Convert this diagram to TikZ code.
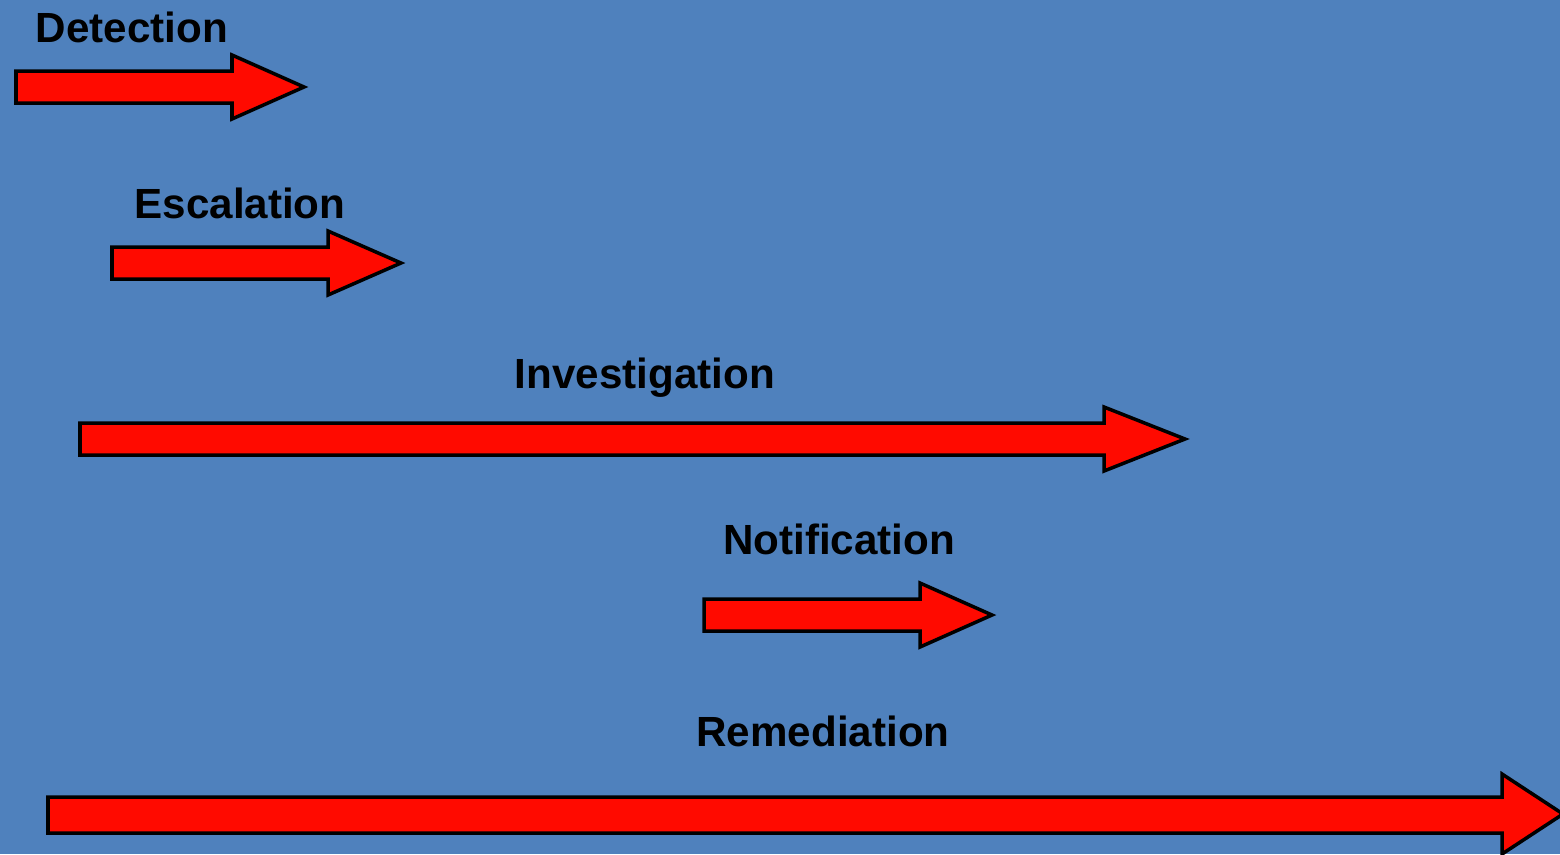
\documentclass[tikz,border=0pt]{standalone}
\usepackage{fontspec}
\setmainfont{Liberation Sans}
\definecolor{bgblue}{RGB}{79,129,189}
\definecolor{arrowred}{RGB}{255,10,0}
\tikzset{
  phase/.style={font=\bfseries\fontsize{12}{14}\selectfont,anchor=base,inner sep=0pt},
  fatarrow/.style={fill=arrowred,draw=black,line width=1pt,line join=miter}
}

\begin{document}
\begin{tikzpicture}
		%Фон
		\fill[bgblue] (0,0) rectangle (15.6,-8.54);
		\useasboundingbox (0,0) rectangle (15.6,-8.54);
		
		%Detection
		\node[phase] (detection) at (1.32,-0.42) {Detection};
		\draw[fatarrow] (0.16,-0.71)--(2.32,-0.71)--(2.32,-0.55)--(3.04,-0.87)--(2.32,-1.19)--(2.32,-1.03)--(0.16,-1.03)--cycle;
		
		%Escalation
		\node[phase] (escalation) at (2.40,-2.18) {Escalation};
		\draw[fatarrow] (1.12,-2.47)--(3.28,-2.47)--(3.28,-2.31)--(4.01,-2.63)--(3.28,-2.95)--(3.28,-2.79)--(1.12,-2.79)--cycle;
		
		%Investigation
		\node[phase] (investigation) at (6.45,-3.88) {Investigation};
		\draw[fatarrow] (0.80,-4.23)--(11.04,-4.23)--(11.04,-4.07)--(11.85,-4.39)--(11.04,-4.71)--(11.04,-4.55)--(0.80,-4.55)--cycle;
		
		%Notification
		\node[phase] (notification) at (8.39,-5.54) {Notification};
		\draw[fatarrow] (7.04,-5.99)--(9.20,-5.99)--(9.20,-5.83)--(9.92,-6.15)--(9.20,-6.47)--(9.20,-6.31)--(7.04,-6.31)--cycle;
		
		%Remediation
		\node[phase] (remediation) at (8.23,-7.46) {Remediation};
		\draw[fatarrow] (0.48,-7.97)--(15.02,-7.97)--(15.02,-7.74)--(15.63,-8.14)--(15.02,-8.54)--(15.02,-8.33)--(0.48,-8.33)--cycle;
\end{tikzpicture}
\end{document}
